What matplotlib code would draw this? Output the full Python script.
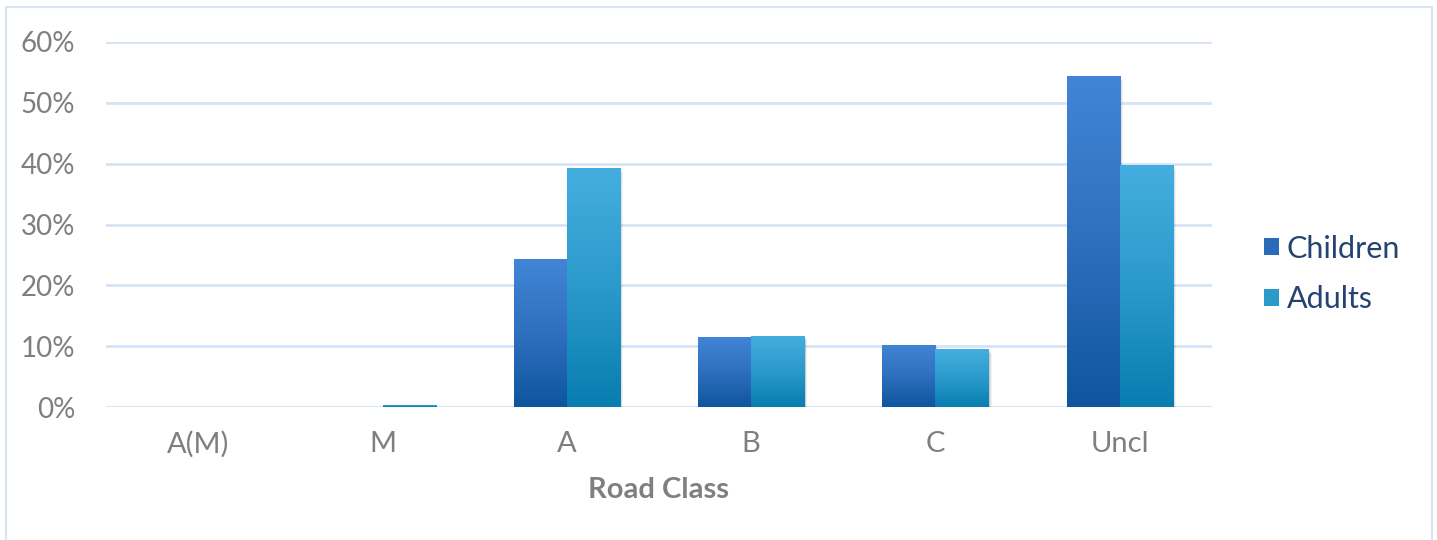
import numpy as np
import matplotlib
matplotlib.use("Agg")
import matplotlib.pyplot as plt
from matplotlib.colors import LinearSegmentedColormap
from matplotlib.patches import Rectangle, Patch
from matplotlib.ticker import PercentFormatter

classes = ["A(M)", "M", "A", "B", "C", "Uncl"]
children = [0.0, 0.0, 24.3, 11.5, 10.2, 54.4]
adults = [0.0, 0.4, 39.3, 11.7, 9.5, 39.8]

plt.rcParams['font.family'] = ['Lato', 'DejaVu Sans']

grey = "#7f7f7f"
gridc = "#d5e3f4"

cmaps = {
    "Children": LinearSegmentedColormap.from_list("ch", ["#0f559e", "#2f6fbe", "#4285d6"]),
    "Adults": LinearSegmentedColormap.from_list("ad", ["#087daf", "#2a9acb", "#45aee0"]),
}

fig = plt.figure(figsize=(14.37, 5.4), dpi=100)
ax = fig.add_axes([106 / 1437, 1 - 407 / 540, (1212 - 106) / 1437, (407 - 42) / 540])

x = np.arange(len(classes))
w = 0.288
grad = np.linspace(0, 1, 256).reshape(-1, 1)

for vals, off, name in [(children, -w / 2, "Children"), (adults, w / 2, "Adults")]:
    bars = ax.bar(x + off, vals, width=w, color="none", zorder=3)
    for b in bars:
        h = b.get_height()
        if h <= 0:
            continue
        x0 = b.get_x()
        # soft drop shadow
        for k, a in [(4, 0.05), (3, 0.07), (2, 0.09)]:
            ax.add_patch(Rectangle((x0 + 0.004 * k, -0.15 * k), w, h, color="black",
                                   alpha=a, lw=0, zorder=2))
        im = ax.imshow(grad, extent=[x0, x0 + w, 0, h], origin="lower", aspect="auto",
                       cmap=cmaps[name], zorder=3)
        im.set_clip_path(b)

ax.set_xlim(-0.5, len(classes) - 0.5)
ax.set_ylim(0, 60)
ax.set_yticks(range(0, 61, 10))
ax.yaxis.set_major_formatter(PercentFormatter(decimals=0))
ax.set_xticks(x)
ax.set_xticklabels(classes)
ax.grid(axis="y", color=gridc, lw=2, zorder=0)
ax.set_axisbelow(True)
for s in ax.spines.values():
    s.set_visible(False)
ax.tick_params(length=0, labelcolor=grey)
ax.tick_params(axis="x", pad=17, labelsize=21)
ax.tick_params(axis="y", pad=22, labelsize=20)
ax.set_xlabel("Road Class", fontsize=21, fontweight="bold", color=grey, labelpad=14)

handles = [Patch(facecolor="#2a6ab8", label="Children"),
           Patch(facecolor="#2a9acb", label="Adults")]
leg = fig.legend(handles=handles, loc="center left", bbox_to_anchor=(1236 / 1437, 1 - 274 / 540),
                 frameon=False, fontsize=22, handlelength=0.5, handleheight=0.5,
                 handletextpad=0.25, labelspacing=0.75)
for t in leg.get_texts():
    t.set_color("#24436f")

fig.patches.append(Rectangle((6 / 1437, -0.02), (1432 - 6) / 1437, 1.02 - 7 / 540,
                             transform=fig.transFigure, fill=False, ec="#d8e4f3", lw=1.5))

fig.savefig("out.png", dpi=100)
